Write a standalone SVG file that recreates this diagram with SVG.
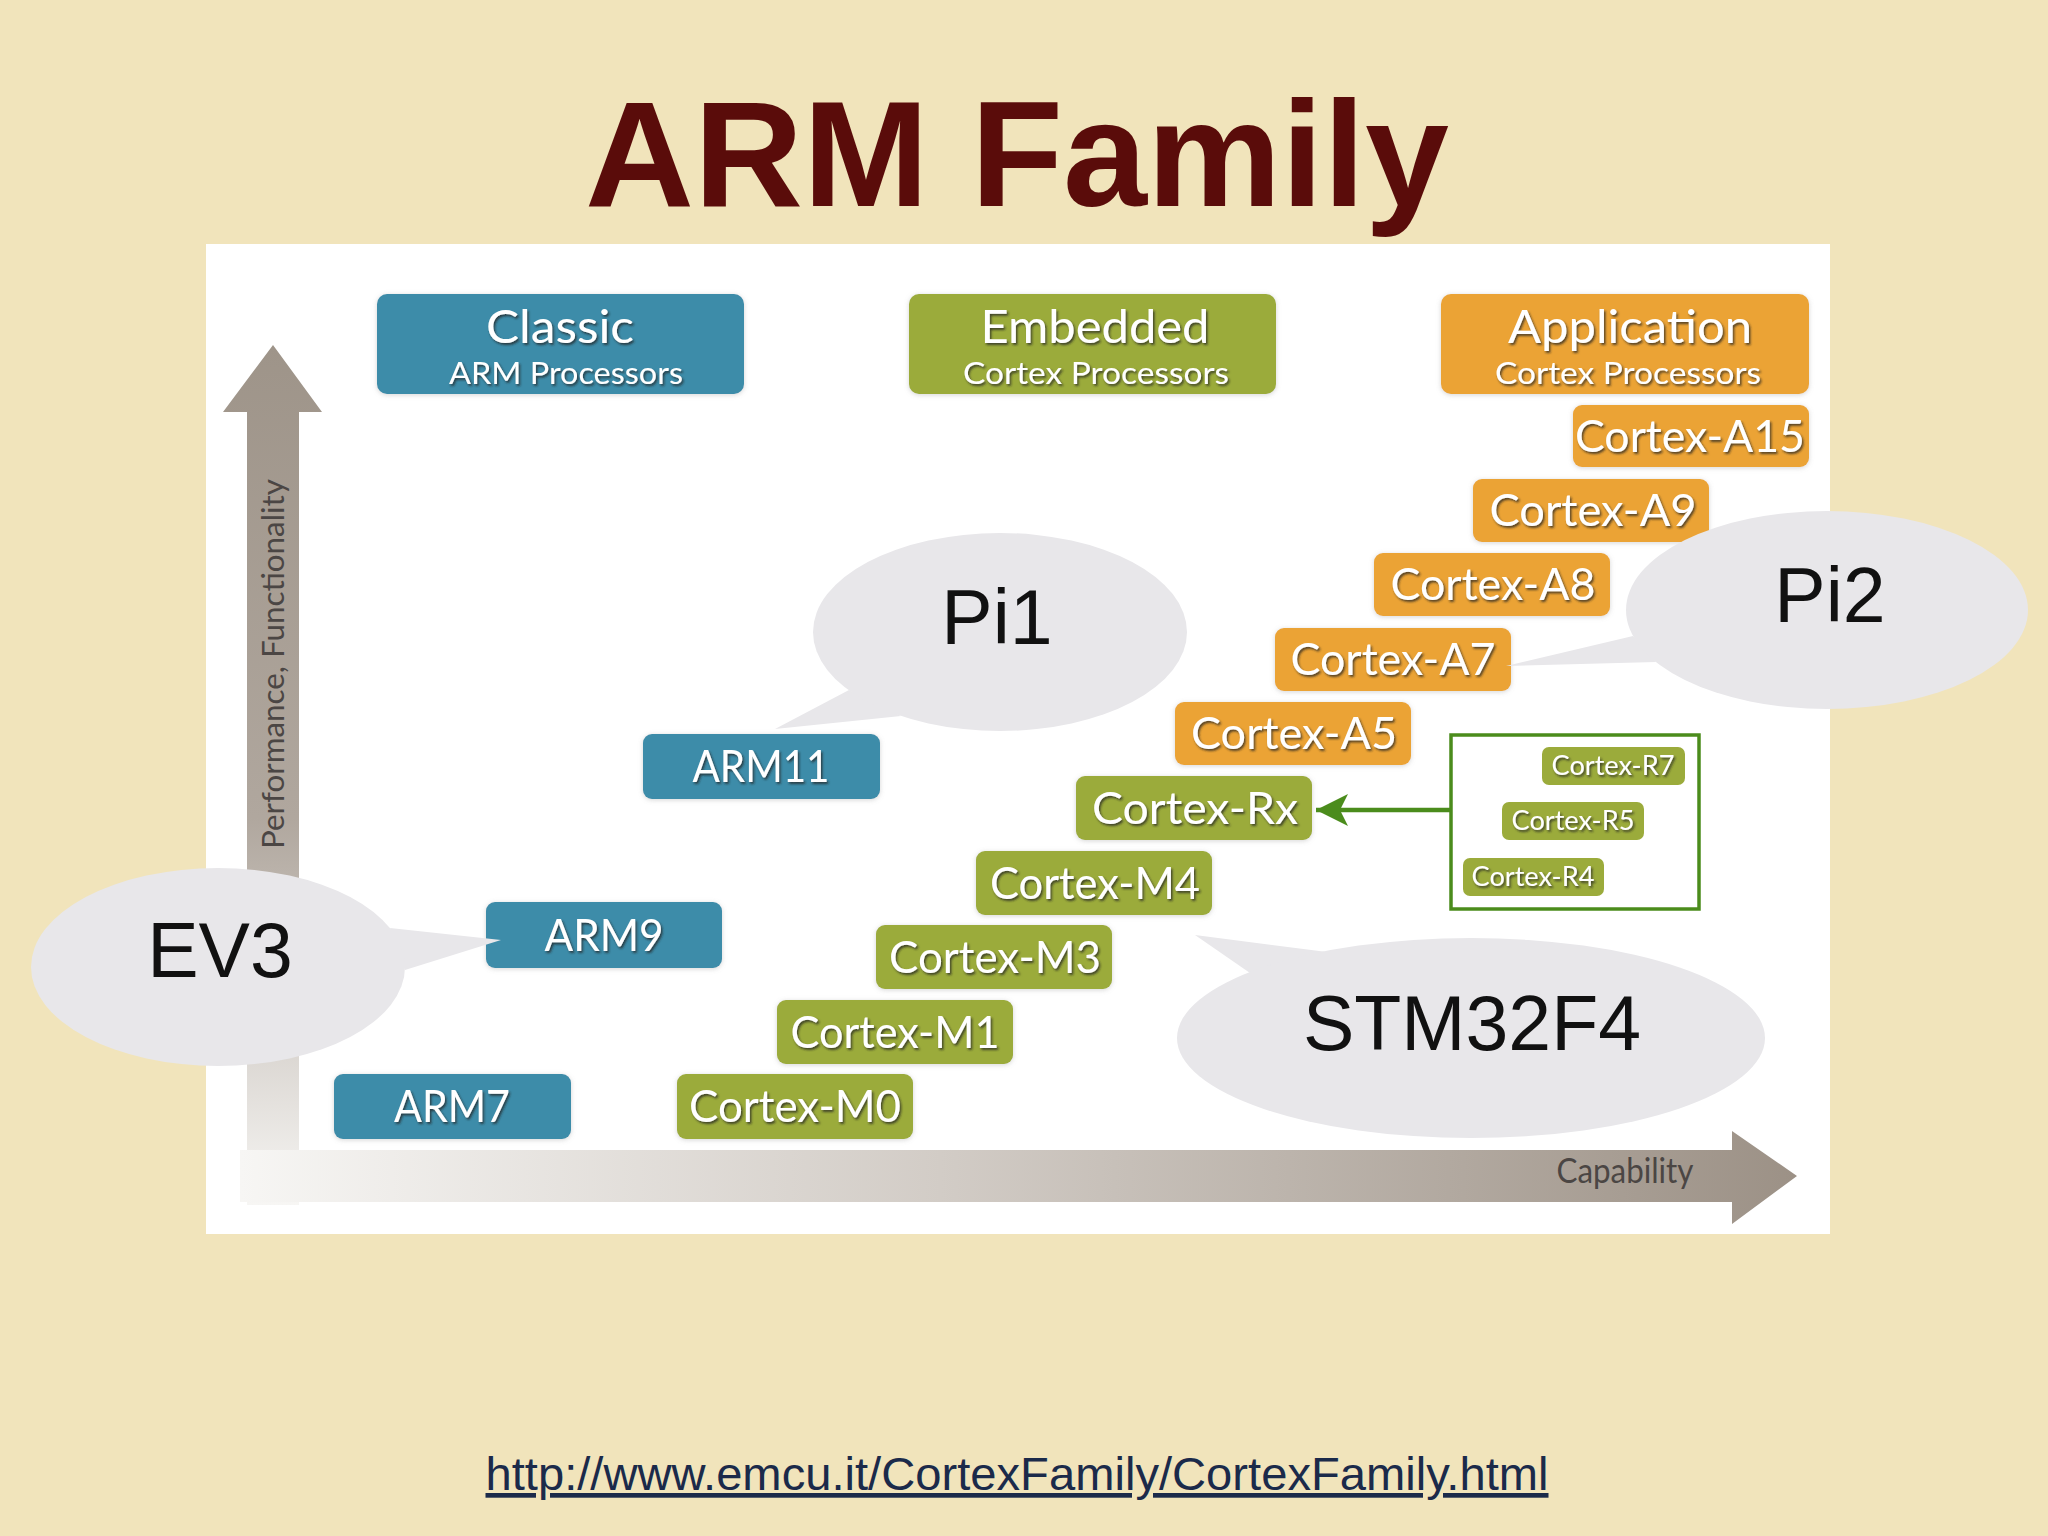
<svg xmlns="http://www.w3.org/2000/svg" width="2048" height="1536" viewBox="0 0 2048 1536">
<defs>
<linearGradient id="gv" x1="0" y1="345" x2="0" y2="1205" gradientUnits="userSpaceOnUse">
<stop offset="0" stop-color="#9e9489"/>
<stop offset="0.55" stop-color="#b0a79e"/>
<stop offset="1" stop-color="#f7f6f4"/>
</linearGradient>
<linearGradient id="gh" x1="240" y1="0" x2="1797" y2="0" gradientUnits="userSpaceOnUse">
<stop offset="0" stop-color="#f7f6f4"/>
<stop offset="0.45" stop-color="#d2ccc6"/>
<stop offset="1" stop-color="#9c9186"/>
</linearGradient>
<filter id="ts" x="-10%" y="-30%" width="120%" height="160%">
<feDropShadow dx="1.5" dy="2" stdDeviation="1.2" flood-color="#222" flood-opacity="0.75"/>
</filter>
<filter id="bs" x="-10%" y="-20%" width="120%" height="140%">
<feDropShadow dx="0" dy="1" stdDeviation="2.5" flood-color="#888" flood-opacity="0.35"/>
</filter>
<marker id="ah" viewBox="0 0 10 10" refX="10" refY="5" markerWidth="32" markerHeight="32" markerUnits="userSpaceOnUse" orient="auto">
<path d="M0,0 L10,5 L0,10 L2.5,5 Z" fill="#4b8c1c"/>
</marker>
</defs>
<style>
.bl{fill:#3e8ca9}
.gr{fill:#9bab3b}
.or{fill:#eba336}
.lab{font-family:Lato,"Open Sans","DejaVu Sans",sans-serif;fill:#fff;text-anchor:middle;filter:url(#ts)}
.big{font-size:44px}
.h1{font-size:46px}
.h2{font-size:30px}
.sm{font-size:27px}
.bub{fill:#e8e7ea}
.bt{font-family:"Liberation Sans",Arial,sans-serif;font-size:77px;fill:#111;text-anchor:middle}
.ax{font-family:Lato,"Open Sans",sans-serif;fill:#4b4644;text-anchor:middle}
</style>
<rect width="2048" height="1536" fill="#f1e4bb"/>
<text x="1017" y="206" font-family="'Liberation Sans',Arial,sans-serif" font-weight="bold" font-size="151" fill="#5a0c0a" text-anchor="middle">ARM Family</text>
<rect x="206" y="244" width="1624" height="990" fill="#ffffff"/>

<g id="axis-vertical">
<path d="M247,1205 L247,412 L223,412 L273,345 L322,412 L299,412 L299,1205 Z" fill="url(#gv)"/>
<text class="ax" font-size="31" transform="translate(284,664) rotate(-90)" textLength="370" lengthAdjust="spacingAndGlyphs">Performance, Functionality</text>
</g>
<g id="axis-horizontal">
<path d="M240,1150 L1732,1150 L1732,1131 L1797,1176 L1732,1224 L1732,1202 L240,1202 Z" fill="url(#gh)"/>
<text class="ax" x="1625" y="1183" font-size="34" textLength="137" lengthAdjust="spacingAndGlyphs">Capability</text>
</g>

<g id="classic">
<rect class="bl" x="377" y="294" width="367" height="100" rx="10" filter="url(#bs)"/>
<text class="lab h1" x="560" y="343" textLength="148" lengthAdjust="spacingAndGlyphs">Classic</text>
<text class="lab h2" x="566" y="384" textLength="234" lengthAdjust="spacingAndGlyphs">ARM Processors</text>
</g>
<g id="embedded">
<rect class="gr" x="909" y="294" width="367" height="100" rx="10" filter="url(#bs)"/>
<text class="lab h1" x="1095" y="343" textLength="229" lengthAdjust="spacingAndGlyphs">Embedded</text>
<text class="lab h2" x="1096" y="384" textLength="266" lengthAdjust="spacingAndGlyphs">Cortex Processors</text>
</g>
<g id="application">
<rect class="or" x="1441" y="294" width="368" height="100" rx="10" filter="url(#bs)"/>
<text class="lab h1" x="1630" y="343" textLength="244" lengthAdjust="spacingAndGlyphs">Application</text>
<text class="lab h2" x="1628" y="384" textLength="266" lengthAdjust="spacingAndGlyphs">Cortex Processors</text>
</g>

<g id="cortex-a15"><rect class="or" x="1573" y="405" width="236" height="62" rx="9" filter="url(#bs)"/><text class="lab big" x="1690" y="452" textLength="230" lengthAdjust="spacingAndGlyphs">Cortex-A15</text></g>
<g id="cortex-a9"><rect class="or" x="1473" y="479" width="236" height="63" rx="9" filter="url(#bs)"/><text class="lab big" x="1593" y="526" textLength="207" lengthAdjust="spacingAndGlyphs">Cortex-A9</text></g>
<g id="cortex-a8"><rect class="or" x="1374" y="553" width="236" height="63" rx="9" filter="url(#bs)"/><text class="lab big" x="1493" y="600" textLength="205" lengthAdjust="spacingAndGlyphs">Cortex-A8</text></g>
<g id="cortex-a7"><rect class="or" x="1275" y="628" width="236" height="63" rx="9" filter="url(#bs)"/><text class="lab big" x="1393" y="675" textLength="205" lengthAdjust="spacingAndGlyphs">Cortex-A7</text></g>
<g id="cortex-a5"><rect class="or" x="1175" y="702" width="236" height="63" rx="9" filter="url(#bs)"/><text class="lab big" x="1294" y="749" textLength="206" lengthAdjust="spacingAndGlyphs">Cortex-A5</text></g>
<g id="cortex-rx"><rect class="gr" x="1076" y="776" width="236" height="64" rx="9" filter="url(#bs)"/><text class="lab big" x="1195" y="824" textLength="206" lengthAdjust="spacingAndGlyphs">Cortex-Rx</text></g>
<g id="cortex-m4"><rect class="gr" x="976" y="851" width="236" height="64" rx="9" filter="url(#bs)"/><text class="lab big" x="1095" y="899" textLength="210" lengthAdjust="spacingAndGlyphs">Cortex-M4</text></g>
<g id="cortex-m3"><rect class="gr" x="876" y="925" width="236" height="64" rx="9" filter="url(#bs)"/><text class="lab big" x="995" y="973" textLength="212" lengthAdjust="spacingAndGlyphs">Cortex-M3</text></g>
<g id="cortex-m1"><rect class="gr" x="777" y="1000" width="236" height="64" rx="9" filter="url(#bs)"/><text class="lab big" x="895" y="1048" textLength="209" lengthAdjust="spacingAndGlyphs">Cortex-M1</text></g>
<g id="cortex-m0"><rect class="gr" x="677" y="1074" width="236" height="65" rx="9" filter="url(#bs)"/><text class="lab big" x="795" y="1122" textLength="212" lengthAdjust="spacingAndGlyphs">Cortex-M0</text></g>

<g id="arm11"><rect class="bl" x="643" y="734" width="237" height="65" rx="9" filter="url(#bs)"/><text class="lab big" x="761" y="782" textLength="137" lengthAdjust="spacingAndGlyphs">ARM11</text></g>
<g id="arm9"><rect class="bl" x="486" y="902" width="236" height="66" rx="9" filter="url(#bs)"/><text class="lab big" x="604" y="951" textLength="119" lengthAdjust="spacingAndGlyphs">ARM9</text></g>
<g id="arm7"><rect class="bl" x="334" y="1074" width="237" height="65" rx="9" filter="url(#bs)"/><text class="lab big" x="452" y="1122" textLength="116" lengthAdjust="spacingAndGlyphs">ARM7</text></g>

<g id="cortex-r-group">
<rect x="1451" y="735" width="248" height="174" fill="none" stroke="#4b8c1c" stroke-width="3.5"/>
<g id="cortex-r7"><rect class="gr" x="1542" y="747" width="143" height="38" rx="7"/><text class="lab sm" x="1613" y="775" textLength="123" lengthAdjust="spacingAndGlyphs">Cortex-R7</text></g>
<g id="cortex-r5"><rect class="gr" x="1502" y="802" width="142" height="38" rx="7"/><text class="lab sm" x="1573" y="830" textLength="123" lengthAdjust="spacingAndGlyphs">Cortex-R5</text></g>
<g id="cortex-r4"><rect class="gr" x="1463" y="858" width="141" height="38" rx="7"/><text class="lab sm" x="1533" y="886" textLength="123" lengthAdjust="spacingAndGlyphs">Cortex-R4</text></g>
</g>

<g id="connectors">
<line x1="1451" y1="810" x2="1316" y2="810" stroke="#4b8c1c" stroke-width="4.5" marker-end="url(#ah)"/>
</g>

<g id="bubble-ev3">
<path class="bub" d="M390,928 L501,940 L405,970 Z"/>
<ellipse class="bub" cx="218" cy="967" rx="187" ry="99"/>
<text class="bt" x="220" y="977">EV3</text>
</g>
<g id="bubble-pi1">
<path class="bub" d="M849,690 L775,729 L901,716 Z"/>
<ellipse class="bub" cx="1000" cy="632" rx="187" ry="99"/>
<text class="bt" x="997" y="644">Pi1</text>
</g>
<g id="bubble-pi2">
<path class="bub" d="M1633,636 L1506,666 L1656,662 Z"/>
<ellipse class="bub" cx="1827" cy="610" rx="201" ry="99"/>
<text class="bt" x="1830" y="622">Pi2</text>
</g>
<g id="bubble-stm32f4">
<path class="bub" d="M1250,973 L1195,935 L1327,952 Z"/>
<ellipse class="bub" cx="1471" cy="1038" rx="294" ry="100"/>
<text class="bt" x="1472" y="1050">STM32F4</text>
</g>

<text x="1017" y="1490" font-family="'Liberation Sans',Arial,sans-serif" font-size="47" fill="#1b2a4a" text-anchor="middle" text-decoration="underline" textLength="1063" lengthAdjust="spacingAndGlyphs">http://www.emcu.it/CortexFamily/CortexFamily.html</text>
</svg>
